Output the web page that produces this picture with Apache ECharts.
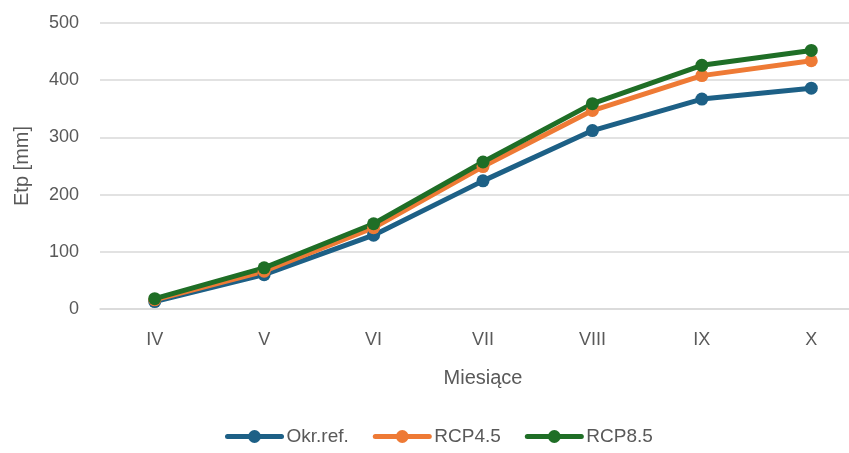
<!DOCTYPE html>
<html><head><meta charset="utf-8">
<script src="https://cdn.jsdelivr.net/npm/echarts@6/dist/echarts.min.js"></script>
<style>html,body{margin:0;padding:0;background:#fff}#c{width:849px;height:453px}</style>
</head><body><div id="c"></div>
<script>
const categories = ['IV','V','VI','VII','VIII','IX','X'];
const okrRef = [13, 60, 129, 224, 312, 367, 386];
const rcp45 = [16, 66, 142, 249, 347, 408, 434];
const rcp85 = [18, 72, 149, 257, 359, 426, 452];
const yTicks = [0, 100, 200, 300, 400, 500];

const font = 'Liberation Sans, Arial, sans-serif';
const mk = (name, data, color) => ({
  name, type: 'line', data, symbol: 'circle', symbolSize: 13,
  lineStyle: { width: 5, color, cap: 'round' }, itemStyle: { color }, z: 2
});
const chart = echarts.init(document.getElementById('c'));
chart.setOption({
  animation: false,
  grid: { left: 100, right: -17, top: 23, bottom: 144, containLabel: false, outerBoundsMode: 'none' },
  xAxis: {
    type: 'category', data: categories, boundaryGap: true,
    axisLine: { show: true, lineStyle: { color: '#d9d9d9', width: 1.5 } },
    axisTick: { show: false },
    axisLabel: { color: '#595959', fontSize: 18, fontFamily: font, margin: 22 },
    name: 'Miesiące', nameLocation: 'middle', nameGap: 59,
    nameTextStyle: { color: '#595959', fontSize: 20, fontFamily: font }
  },
  yAxis: {
    type: 'value', min: yTicks[0], max: yTicks[yTicks.length - 1], interval: 100,
    axisLine: { show: false }, axisTick: { show: false },
    splitLine: { lineStyle: { color: '#d9d9d9', width: 1.5 } },
    axisLabel: { color: '#595959', fontSize: 18, fontFamily: font, margin: 21 },
    name: 'Etp [mm]', nameLocation: 'middle', nameGap: 68, nameRotate: 90,
    nameTextStyle: { color: '#595959', fontSize: 20, fontFamily: font }
  },
  legend: {
    bottom: 2, left: 220, itemWidth: 54, itemHeight: 16, itemGap: 24,
    lineStyle: { width: 5 },
    textStyle: { color: '#595959', fontSize: 19, fontFamily: font },
    data: ['Okr.ref.', 'RCP4.5', 'RCP8.5']
  },
  series: [
    mk('Okr.ref.', okrRef, '#1d6086'),
    mk('RCP4.5', rcp45, '#ee7a35'),
    mk('RCP8.5', rcp85, '#1f6e26')
  ]
});
</script></body></html>
